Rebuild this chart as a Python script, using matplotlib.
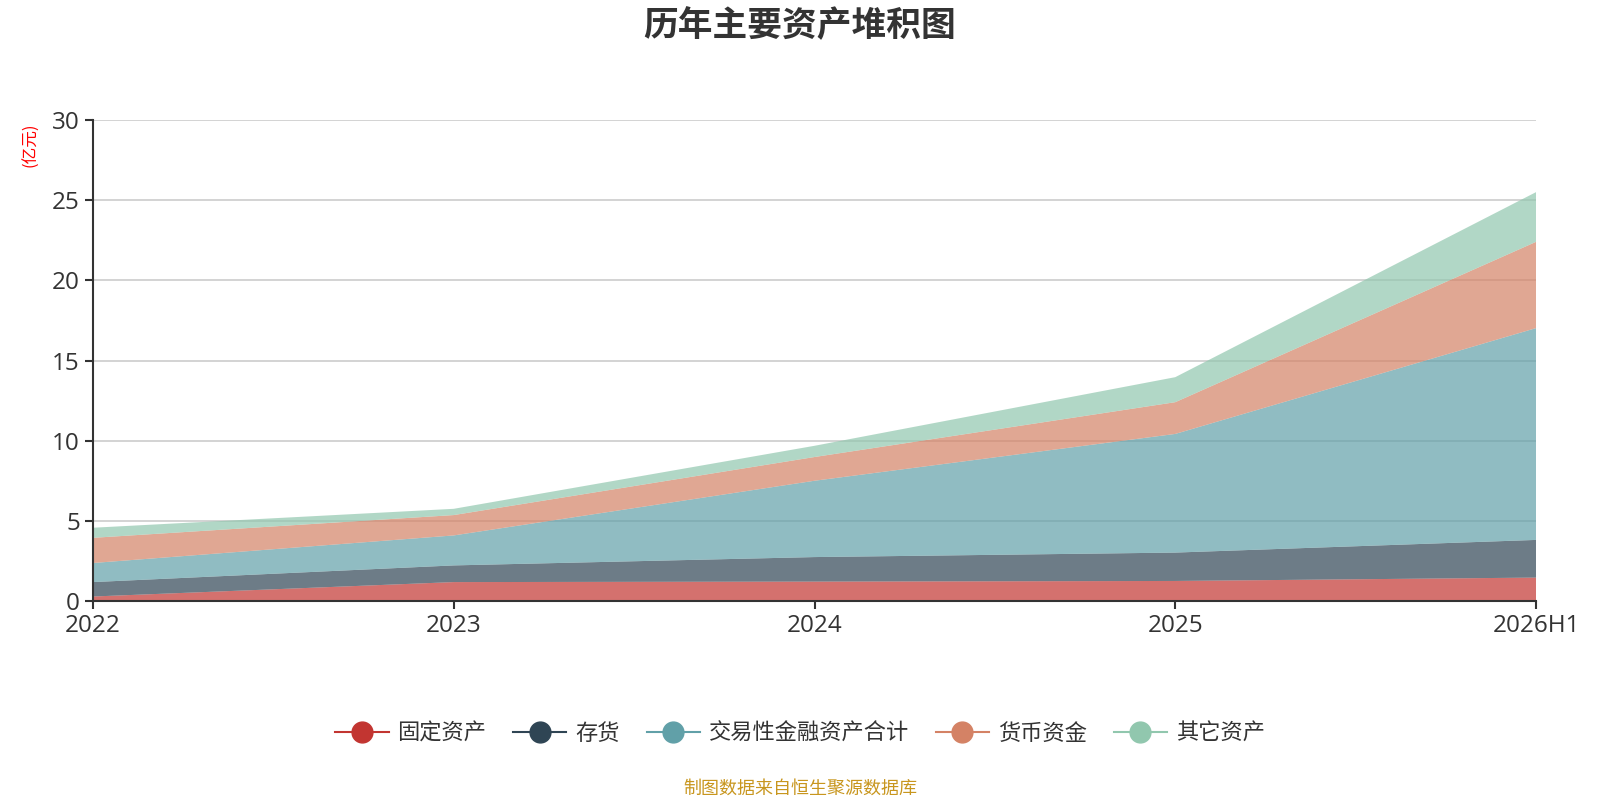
import matplotlib
matplotlib.use('Agg')
from matplotlib import pyplot as plt
from matplotlib.lines import Line2D
import numpy as np

plt.rcParams['font.family'] = ['Noto Sans CJK SC', 'DejaVu Sans']

years = ['2022', '2023', '2024', '2025', '2026H1']
fixed_assets = [0.28, 1.18, 1.21, 1.25, 1.46]      # 固定资产
inventory = [0.90, 1.04, 1.53, 1.77, 2.35]         # 存货
trading_fin = [1.19, 1.87, 4.76, 7.40, 13.21]      # 交易性金融资产合计
cash = [1.57, 1.27, 1.48, 1.98, 5.38]              # 货币资金
others = [0.63, 0.39, 0.70, 1.56, 3.10]            # 其它资产

names = ['固定资产', '存货', '交易性金融资产合计', '货币资金', '其它资产']
colors = ['#c23531', '#2f4554', '#61a0a8', '#d48265', '#91c7ae']

fig = plt.figure(figsize=(16, 8), dpi=100)
ax = fig.add_axes([93 / 1600, 1 - 601 / 800, (1536 - 93) / 1600, (601 - 120) / 800])

x = np.arange(len(years))
ax.stackplot(x, fixed_assets, inventory, trading_fin, cash, others,
             colors=colors, alpha=0.7, linewidth=0, zorder=3)

ax.set_xlim(0, len(years) - 1)
ax.set_ylim(0, 30)
ax.set_yticks([0, 5, 10, 15, 20, 25, 30])
ax.set_xticks(x)
ax.set_xticklabels(years)
ax.grid(axis='y', color='#cccccc', lw=1.2, zorder=1)
ax.set_axisbelow(True)
for s in ['top', 'right']:
    ax.spines[s].set_visible(False)
for s in ['left', 'bottom']:
    ax.spines[s].set_color('#333333')
    ax.spines[s].set_linewidth(1.5)
    ax.spines[s].set_zorder(5)
ax.tick_params(axis='both', colors='#333333', labelsize=17.5, length=6, width=1.5)
ax.tick_params(axis='x', pad=3)
for lab in ax.get_xticklabels() + ax.get_yticklabels():
    lab.set_family(['Open Sans', 'Noto Sans CJK SC'])

fig.text(0.5, 1 - 26 / 800, '历年主要资产堆积图', ha='center', va='center',
         fontsize=25, fontweight='bold', color='#333333')
fig.text(31 / 1600, 1 - 145 / 800, '(亿元)', ha='center', va='center',
         rotation=90, fontsize=12, color='#ff0000')

handles = [Line2D([0], [0], color=c, lw=1.5, marker='o', markersize=15,
                  markeredgecolor=c, markerfacecolor=c) for c in colors]
fig.legend(handles, names, loc='center', bbox_to_anchor=(0.5, 1 - 733 / 800),
           ncol=5, frameon=False, fontsize=16, handlelength=2.4,
           columnspacing=1.2, handletextpad=0.4, labelcolor='#333333')

fig.text(0.5, 1 - 789 / 800, '制图数据来自恒生聚源数据库', ha='center', va='center',
         fontsize=13, color='#c8961e')

fig.savefig('out.png', dpi=100)
